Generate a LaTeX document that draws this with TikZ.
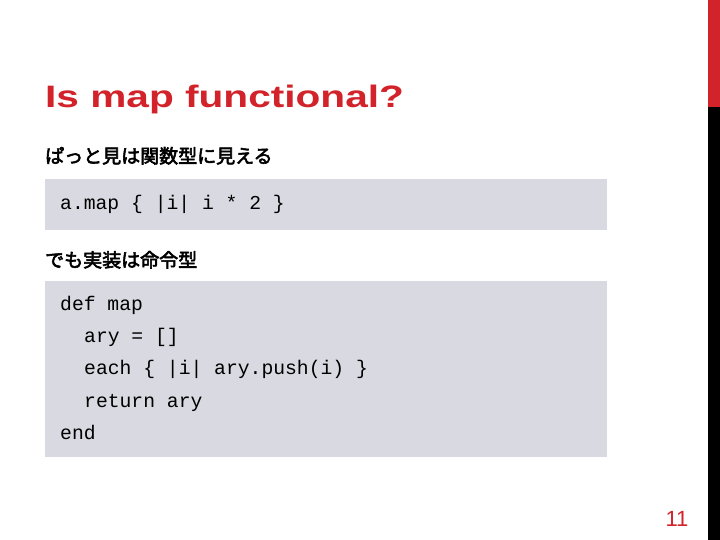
\documentclass[tikz,border=0pt]{standalone}
\usepackage{fontspec}
\setmainfont{Liberation Sans}
\setmonofont{Liberation Mono}
\newfontfamily\jp[AutoFakeBold=3]{Noto Sans CJK JP}
\definecolor{accent}{HTML}{D2232A}
\definecolor{codebg}{HTML}{D9D9E1}
\tikzset{
  code/.style={anchor=base west,inner sep=0pt,font=\ttfamily\fontsize{19.7}{20}\selectfont},
  jptext/.style={anchor=base west,inner sep=0pt,font=\jp\bfseries\fontsize{19}{19}\selectfont},
}
\begin{document}
\begin{tikzpicture}[x=1pt,y=-1pt]
\useasboundingbox (0,0) rectangle (720,540);
\fill[accent] (708,0) rectangle (720,107);
\fill[black] (708,107) rectangle (720,540);
\node[anchor=base west,inner sep=0pt,text=accent,font=\bfseries\fontsize{31}{31}\selectfont] (title) at (45,108) {\scalebox{1.31}[1]{Is map functional?}};
\node[jptext] (j1) at (45,163) {ぱっと見は関数型に見える};
\fill[codebg] (45,179) rectangle (607,230);
\node[code] (c1) at (60,210) {a.map \{ |i| i * 2 \}};
\node[jptext] (j2) at (45,267) {でも実装は命令型};
\fill[codebg] (45,281) rectangle (607,457);
\node[code] (d1) at (60,310) {def map};
\node[code] (d2) at (84,342) {ary = []};
\node[code] (d3) at (84,374) {each \{ |i| ary.push(i) \}};
\node[code] (d4) at (84,407) {return ary};
\node[code] (d5) at (60,439) {end};
\node[anchor=base,inner sep=0pt,text=accent,font=\fontsize{22}{22}\selectfont] (pg) at (677,526) {11};
\end{tikzpicture}
\end{document}
